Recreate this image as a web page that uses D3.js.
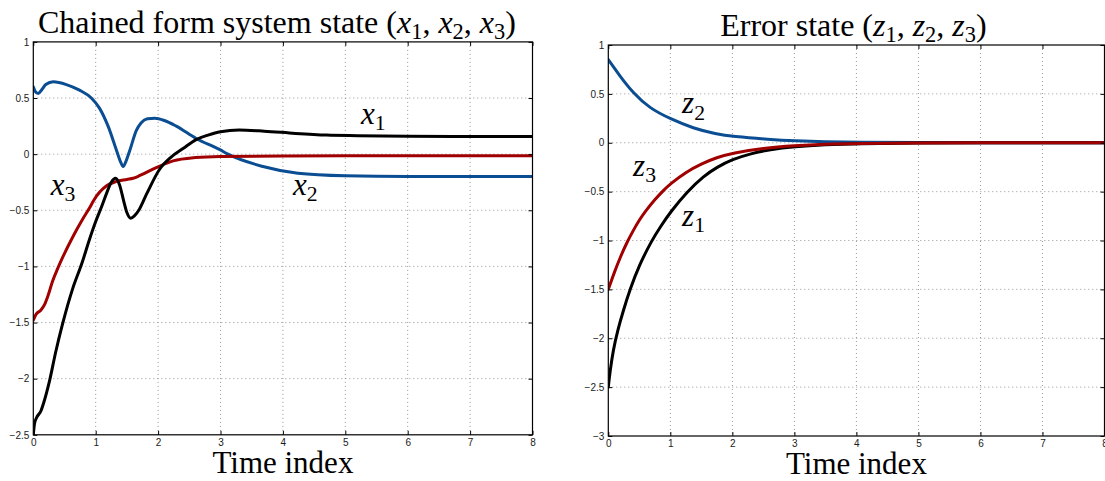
<!DOCTYPE html>
<html>
<head>
<meta charset="utf-8">
<script src="https://cdn.jsdelivr.net/npm/d3@7"></script>
<style>
  body { margin: 0; background: #fff; }
  svg { display: block; }
  text { white-space: pre; }
</style>
</head>
<body>
<div id="chart"></div>
<script>
// Tick values
const timeTicks = [0, 1, 2, 3, 4, 5, 6, 7, 8];
const leftYTicks = [1, 0.5, 0, -0.5, -1, -1.5, -2, -2.5];
const rightYTicks = [1, 0.5, 0, -0.5, -1, -1.5, -2, -2.5, -3];

// Chained form system state, [time, value]
const x1 = [[0,-2.5],[0.02,-2.4],[0.05,-2.35],[0.12,-2.29],[0.18,-2.19],[0.26,-2.02],[0.36,-1.76],[0.47,-1.51],[0.63,-1.2],[0.78,-0.97],[0.9,-0.76],[1.0,-0.6],[1.1,-0.46],[1.18,-0.34],[1.25,-0.25],[1.32,-0.215],[1.38,-0.27],[1.45,-0.42],[1.5,-0.52],[1.56,-0.57],[1.62,-0.55],[1.7,-0.49],[1.82,-0.35],[2.03,-0.13],[2.2,-0.03],[2.4,0.05],[2.61,0.13],[2.8,0.17],[3.0,0.2],[3.3,0.215],[3.7,0.205],[4.2,0.185],[4.7,0.17],[5.2,0.165],[6,0.16],[7,0.158],[8,0.157]];
const x2 = [[0,0.6],[0.03,0.56],[0.08,0.54],[0.13,0.57],[0.2,0.62],[0.32,0.645],[0.53,0.62],[0.74,0.57],[0.93,0.5],[1.06,0.41],[1.2,0.247],[1.33,0.04],[1.4,-0.07],[1.44,-0.11],[1.48,-0.07],[1.55,0.04],[1.65,0.21],[1.73,0.28],[1.83,0.315],[1.95,0.32],[2.1,0.3],[2.29,0.25],[2.61,0.14],[2.99,0.04],[3.12,0.0],[3.68,-0.11],[4.24,-0.17],[5,-0.193],[6,-0.2],[7,-0.2],[8,-0.2]];
const x3 = [[0,-1.48],[0.04,-1.43],[0.12,-1.39],[0.18,-1.34],[0.23,-1.27],[0.31,-1.13],[0.39,-1.02],[0.47,-0.92],[0.63,-0.74],[0.79,-0.58],[0.9,-0.48],[0.97,-0.41],[1.18,-0.28],[1.32,-0.245],[1.5,-0.225],[1.6,-0.215],[1.71,-0.19],[1.97,-0.12],[2.24,-0.06],[2.6,-0.03],[3,-0.02],[4,-0.016],[5,-0.015],[6,-0.015],[7,-0.015],[8,-0.015]];

// Error state, [time, value]
const z1 = [[0,-2.5],[0.03,-2.33],[0.08,-2.12],[0.15,-1.92],[0.25,-1.7],[0.35,-1.5],[0.5,-1.25],[0.7,-1.0],[0.85,-0.85],[1.0,-0.71],[1.27,-0.5],[1.54,-0.34],[1.75,-0.25],[2.0,-0.17],[2.3,-0.11],[2.6,-0.07],[3,-0.04],[3.5,-0.02],[4,-0.01],[5,-0.003],[6,0],[7,0],[8,0]];
const z2 = [[0,0.85],[0.19,0.68],[0.4,0.51],[0.67,0.35],[1.0,0.245],[1.37,0.147],[1.74,0.089],[2.0,0.065],[2.6,0.034],[3,0.02],[3.5,0.01],[4,0.005],[5,0.002],[6,0],[7,0],[8,0]];
const z3 = [[0,-1.5],[0.1,-1.32],[0.2,-1.16],[0.3,-1.02],[0.4,-0.9],[0.5,-0.79],[0.6,-0.7],[0.75,-0.58],[0.9,-0.48],[1.0,-0.42],[1.25,-0.3],[1.5,-0.215],[1.75,-0.15],[2.0,-0.105],[2.5,-0.055],[3,-0.03],[3.5,-0.015],[4,-0.007],[5,-0.002],[6,0],[7,0],[8,0]];

const width = 1105;
const height = 481;
const blue = "#0a4d92", red = "#a00000", black = "#000000";
const bigFont = 31;

const svg = d3.select("#chart")
    .append("svg")
    .attr("width", width)
    .attr("height", height)
    .attr("viewBox", [0, 0, width, height])
    .style("font-family", "'Liberation Serif', 'Times New Roman', serif");

// write TeX-like text: parts are [text, kind] with kind "rm", "it" or "sub"
function mathText(sel, parts, size) {
    let down = false;
    parts.forEach(([t, kind]) => {
        const ts = sel.append("tspan").text(t);
        if (kind === "it") ts.attr("font-style", "italic");
        if (kind === "sub") {
            ts.attr("font-size", size * 0.7).attr("dy", size * 0.2);
            down = true;
        } else if (down) {
            ts.attr("dy", -size * 0.2);
            down = false;
        }
    });
}

function panel(cfg) {
    const x = d3.scaleLinear().domain([0, 8]).range([cfg.left, cfg.right]);
    const y = d3.scaleLinear().domain(cfg.yDomain).range([cfg.bottom, cfg.top]);
    const g = svg.append("g");
    const fmt = d3.format("");

    // dotted grid
    const grid = g.append("g")
        .attr("stroke", "#8a8a8a")
        .attr("stroke-width", 0.9)
        .attr("stroke-dasharray", "1,3");
    grid.selectAll(".gx")
        .data(timeTicks.slice(1, -1))
        .join("line")
        .attr("x1", d => x(d)).attr("x2", d => x(d))
        .attr("y1", cfg.top).attr("y2", cfg.bottom);
    grid.selectAll(".gy")
        .data(cfg.yTicks.slice(1, -1))
        .join("line")
        .attr("x1", cfg.left).attr("x2", cfg.right)
        .attr("y1", d => y(d)).attr("y2", d => y(d));

    // curves
    const clipId = "clip" + Math.round(cfg.left);
    g.append("clipPath").attr("id", clipId)
        .append("rect")
        .attr("x", cfg.left).attr("y", cfg.top)
        .attr("width", cfg.right - cfg.left).attr("height", cfg.bottom - cfg.top);

    const line = d3.line()
        .x(d => x(d[0]))
        .y(d => y(d[1]))
        .curve(cfg.curve);

    g.append("g")
        .attr("clip-path", `url(#${clipId})`)
        .attr("fill", "none")
        .attr("stroke-width", 3)
        .attr("stroke-linejoin", "round")
        .attr("stroke-linecap", "round")
        .selectAll("path")
        .data(cfg.series)
        .join("path")
        .attr("stroke", d => d.color)
        .attr("d", d => line(d.values));

    // axes, ticks pointing inward on all four sides
    const styleAxis = a => {
        a.select(".domain").remove();
        a.selectAll("text")
            .attr("font-family", "'Liberation Sans', Arial, sans-serif")
            .attr("font-size", 10)
            .attr("fill", "#1a1a1a");
        a.selectAll("line").attr("stroke", "#000");
    };
    g.append("g")
        .attr("transform", `translate(0,${cfg.bottom})`)
        .call(d3.axisBottom(x).tickValues(timeTicks).tickFormat(fmt).tickSizeInner(-4).tickSizeOuter(0).tickPadding(4))
        .call(styleAxis);
    g.append("g")
        .attr("transform", `translate(0,${cfg.top})`)
        .call(d3.axisTop(x).tickValues(timeTicks).tickFormat("").tickSizeInner(-4).tickSizeOuter(0))
        .call(styleAxis);
    g.append("g")
        .attr("transform", `translate(${cfg.left},0)`)
        .call(d3.axisLeft(y).tickValues(cfg.yTicks).tickFormat(fmt).tickSizeInner(-4).tickSizeOuter(0).tickPadding(4))
        .call(styleAxis);
    g.append("g")
        .attr("transform", `translate(${cfg.right},0)`)
        .call(d3.axisRight(y).tickValues(cfg.yTicks).tickFormat("").tickSizeInner(-4).tickSizeOuter(0))
        .call(styleAxis);

    // frame
    g.append("rect")
        .attr("x", cfg.left).attr("y", cfg.top)
        .attr("width", cfg.right - cfg.left).attr("height", cfg.bottom - cfg.top)
        .attr("fill", "none")
        .attr("stroke", "#000")
        .attr("stroke-width", 1.2);

    // title
    const cx = (cfg.left + cfg.right) / 2;
    mathText(g.append("text")
        .attr("x", cx + cfg.titleDx).attr("y", cfg.top - 9)
        .attr("text-anchor", "middle")
        .attr("font-size", 32), cfg.title, 32);

    // x label
    g.append("text")
        .attr("x", cx).attr("y", cfg.bottom + 38)
        .attr("text-anchor", "middle")
        .attr("font-size", bigFont)
        .text("Time index");

    // curve labels
    cfg.labels.forEach(l => {
        mathText(g.append("text")
            .attr("x", x(l.t)).attr("y", y(l.v))
            .attr("font-size", bigFont), [[l.sym, "it"], [l.sub, "sub"]], bigFont);
    });
}

panel({
    left: 33.3, right: 532.5, top: 41.9, bottom: 434.8,
    yDomain: [-2.5, 1], yTicks: leftYTicks, titleDx: -6,
    curve: d3.curveMonotoneX,
    series: [{values: x2, color: blue}, {values: x3, color: red}, {values: x1, color: black}],
    title: [["Chained form system state (", "rm"], ["x", "it"], ["1", "sub"], [", ", "rm"], ["x", "it"], ["2", "sub"], [", ", "rm"], ["x", "it"], ["3", "sub"], [")", "rm"]],
    labels: [
        {sym: "x", sub: "1", t: 5.25, v: 0.27},
        {sym: "x", sub: "2", t: 4.16, v: -0.36},
        {sym: "x", sub: "3", t: 0.28, v: -0.36}
    ]
});

panel({
    left: 608.3, right: 1104.5, top: 45, bottom: 436,
    yDomain: [-3, 1], yTicks: rightYTicks, titleDx: -3,
    curve: d3.curveBasis,
    series: [{values: z2, color: blue}, {values: z1, color: black}, {values: z3, color: red}],
    title: [["Error state (", "rm"], ["z", "it"], ["1", "sub"], [", ", "rm"], ["z", "it"], ["2", "sub"], [", ", "rm"], ["z", "it"], ["3", "sub"], [")", "rm"]],
    labels: [
        {sym: "z", sub: "2", t: 1.19, v: 0.30},
        {sym: "z", sub: "3", t: 0.40, v: -0.34},
        {sym: "z", sub: "1", t: 1.19, v: -0.85}
    ]
});
</script>
</body>
</html>
